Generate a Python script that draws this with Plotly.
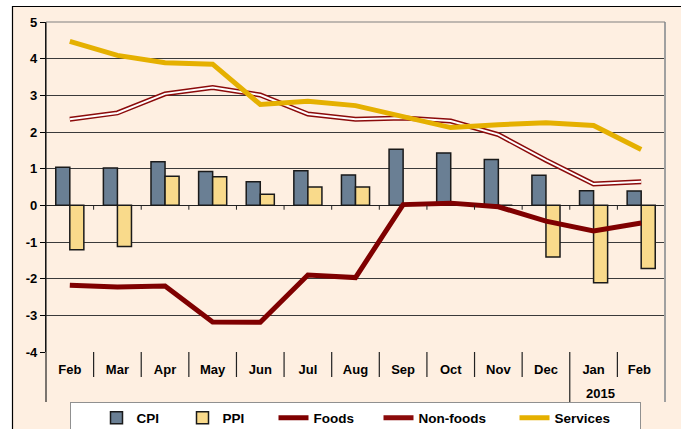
import plotly.graph_objects as go

months = ["Feb", "Mar", "Apr", "May", "Jun", "Jul", "Aug", "Sep", "Oct", "Nov", "Dec", "Jan", "Feb "]
year_label = "2015"
cpi = [1.04, 1.02, 1.19, 0.92, 0.64, 0.94, 0.83, 1.53, 1.43, 1.25, 0.82, 0.40, 0.39]
ppi = [-1.21, -1.12, 0.79, 0.78, 0.30, 0.50, 0.50, 0.0, 0.0, 0.0, -1.41, -2.11, -1.72]
foods = [-2.18, -2.23, -2.20, -3.18, -3.19, -1.90, -1.97, 0.02, 0.06, -0.04, -0.43, -0.70, -0.48]
nonfoods = [2.35, 2.52, 3.04, 3.21, 3.01, 2.49, 2.35, 2.38, 2.30, 1.93, 1.23, 0.58, 0.64]
services = [4.47, 4.09, 3.89, 3.85, 2.75, 2.84, 2.72, 2.43, 2.12, 2.20, 2.25, 2.18, 1.52]
y_ticks = list(range(-4, 6))
y_tick_text = [str(v) for v in y_ticks]

PEACH = "#FEEFE1"
FONT = "Arial, Liberation Sans, sans-serif"

fig = go.Figure()
fig.add_trace(go.Bar(x=months, y=cpi, name="CPI", legendwidth=15,
                     marker=dict(color="#6A7F94", line=dict(color="#1a1a1a", width=1.5))))
fig.add_trace(go.Bar(x=months, y=ppi, name="PPI", legendwidth=20,
                     marker=dict(color="#F9DA8B", line=dict(color="#1a1a1a", width=1.5))))
fig.add_trace(go.Scatter(x=months, y=foods, name="Foods", mode="lines", legendwidth=34,
                         line=dict(color="#7F0000", width=5)))
fig.add_trace(go.Scatter(x=months, y=nonfoods, name="Non-foods", mode="lines", legendwidth=65,
                         line=dict(color="#8B0A0A", width=5)))
fig.add_trace(go.Scatter(x=months, y=nonfoods, name="Non-foods inner", mode="lines", showlegend=False,
                         line=dict(color="#FFFFFF", width=2)))
fig.add_trace(go.Scatter(x=months, y=services, name="Services", mode="lines", legendwidth=80,
                         line=dict(color="#E5B000", width=5)))

W, H = 681, 429
L, R, T, B = 46, 665, 22, 352
pw, ph = R - L, B - T

def px_x(p):
    return (p - L) / pw

def px_y(p):
    return (B - p) / ph

shapes = []
# outer frame
shapes.append(dict(type="rect", xref="paper", yref="paper", x0=px_x(12.5), x1=px_x(720), y0=px_y(470), y1=px_y(6.5),
                   fillcolor=PEACH, line=dict(color="#000000", width=1.2), layer="below"))
n = len(months)
for k in range(n + 1):
    xp = k / n
    long_line = k in (0, n - 2, n)
    y0 = px_y(402) if long_line else px_y(377)
    color = "#A0A0A0" if k == n else "#222222"
    y1 = 1 if k in (0, n) else 0
    shapes.append(dict(type="line", xref="paper", yref="paper", x0=xp, x1=xp, y0=y0, y1=y1,
                       line=dict(color=color, width=2 if k == n else 1.2)))
    if 0 < k < n:
        shapes.append(dict(type="line", xref="paper", yref="y", x0=xp, x1=xp, y0=0, y1=-0.12,
                           line=dict(color="#222222", width=1)))
# top border
shapes.append(dict(type="line", xref="paper", yref="paper", x0=0, x1=1, y0=1, y1=1,
                   line=dict(color="#808080", width=1.2)))

fig.update_layout(
    width=W, height=H,
    margin=dict(l=L, r=W - R, t=T, b=H - B, autoexpand=False),
    paper_bgcolor="#FFFFFF",
    plot_bgcolor="rgba(0,0,0,0)",
    barmode="group", bargap=0.41, bargroupgap=0,
    font=dict(family=FONT, size=13, color="#000000"),
    shapes=shapes,
    showlegend=True,
    legend=dict(orientation="h", x=px_x(69.5), y=px_y(401.5), xanchor="left", yanchor="top",
                bgcolor="#FFFFFF", bordercolor="#909090", borderwidth=1,
                font=dict(family=FONT, size=13.5, color="#000000", weight="bold"),
                indentation=26, tracegroupgap=0, itemwidth=30),
    annotations=[dict(text="<b>" + year_label + "</b>", xref="paper", yref="paper",
                      x=(n - 1) / n, y=px_y(393), yanchor="middle", showarrow=False,
                      font=dict(family=FONT, size=13, color="#000000"))],
)
fig.update_xaxes(type="category", showgrid=False, zeroline=False, showline=False, ticks="",
                 tickfont=dict(family=FONT, size=13, weight="bold"), ticklabelstandoff=8, fixedrange=True)
fig.update_yaxes(range=[-4, 5], tickvals=y_ticks, ticktext=y_tick_text, showgrid=True, gridcolor="#3a3a3a", gridwidth=1,
                 zeroline=True, zerolinecolor="#222222", zerolinewidth=1.2,
                 showline=True, linecolor="#000000", linewidth=1.2,
                 ticks="outside", ticklen=5, tickcolor="#000000",
                 tickfont=dict(family=FONT, size=13, weight="bold"), fixedrange=True)

fig.write_html("out.html", post_script="document.body.style.margin='0px';",
               config=dict(displayModeBar=False))
